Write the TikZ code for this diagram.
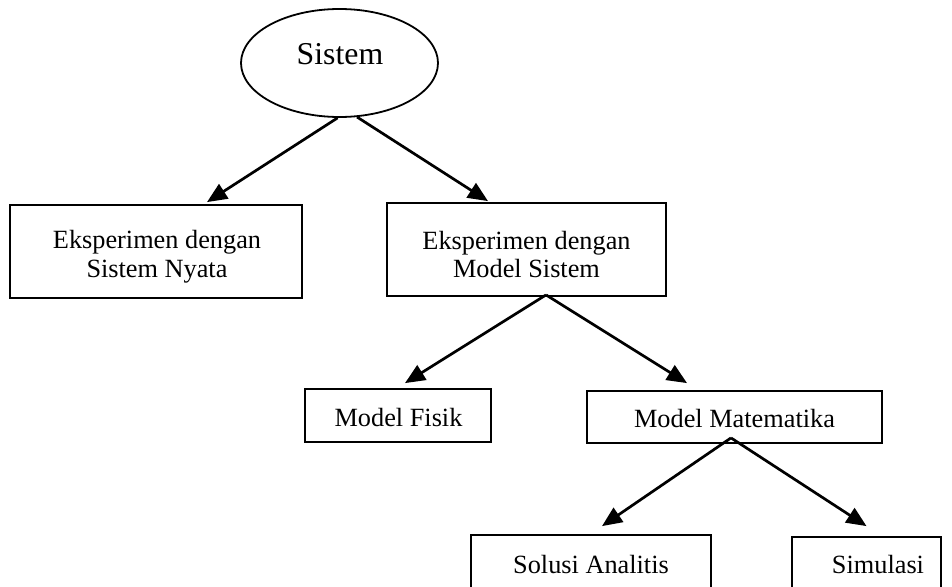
\documentclass[tikz,border=0pt]{standalone}
\usepackage{fontspec}
\setmainfont{Liberation Serif}
\usetikzlibrary{shapes.geometric,arrows.meta}
\begin{document}
\begin{tikzpicture}[x=1pt,y=-1pt,
  box/.style={draw, line width=1.8pt, inner sep=0pt},
  txt/.style={inner sep=0pt, align=center, font=\fontsize{26.3}{28.8}\selectfont},
  oval/.style={ellipse, draw, line width=1.8pt, inner sep=0pt,
    minimum width=197pt, minimum height=108pt},
  bigtext/.style={inner sep=0pt, font=\fontsize{31.8}{34}\selectfont},
  link/.style={line width=2.7pt, -{Triangle[length=20pt,width=17pt]}}]
\path[use as bounding box] (0,0) rectangle (952,586);
\clip (0,0) rectangle (952,586);

% root
\node[oval] (sistem) at (339.5,63) {};
\node[bigtext] (sistemtext) at (340,54) {Sistem};

% first level
\node[box, minimum width=292pt, minimum height=93pt] (nyata) at (156,251.5) {};
\node[txt] (nyatatext) at (157,256.5) {Eksperimen dengan\\Sistem Nyata};
\node[box, minimum width=279pt, minimum height=93pt] (msistem) at (526.5,249.5) {};
\node[txt] (msistemtext) at (526.5,254.5) {Eksperimen dengan\\Model Sistem};

% second level
\node[box, minimum width=186pt, minimum height=53pt] (fisik) at (398,415.5) {};
\node[txt] (fisiktext) at (398.5,417.5) {Model Fisik};
\node[box, minimum width=295pt, minimum height=52pt] (matem) at (734.5,417) {};
\node[txt] (matemtext) at (734.5,418.5) {Model Matematika};

% third level (runs past the lower edge)
\node[box, minimum width=240pt, minimum height=56pt] (solusi) at (591,563) {};
\node[txt] (solusitext) at (591,564) {Solusi Analitis};
\node[box, minimum width=149pt, minimum height=56pt] (simulasi) at (866.5,565) {};
\node[txt] (simulasitext) at (878,564) {Simulasi};

% connectors
\draw[link] (sistem.-92) -- ([xshift=51pt,yshift=2pt]nyata.north);
\draw[link] (sistem.-72) -- ([xshift=-38.5pt,yshift=1pt]msistem.north);
\draw[link] ([xshift=19.5pt,yshift=2pt]msistem.south) -- ([xshift=7pt,yshift=5pt]fisik.north);
\draw[link] ([xshift=19.5pt,yshift=2pt]msistem.south) -- ([xshift=-47.5pt,yshift=7pt]matem.north);
\draw[link] ([xshift=-3.5pt,yshift=6pt]matem.south) -- ([xshift=11pt,yshift=8pt]solusi.north);
\draw[link] ([xshift=-3.5pt,yshift=6pt]matem.south) -- ([xshift=0pt,yshift=10pt]simulasi.north);
\end{tikzpicture}
\end{document}
